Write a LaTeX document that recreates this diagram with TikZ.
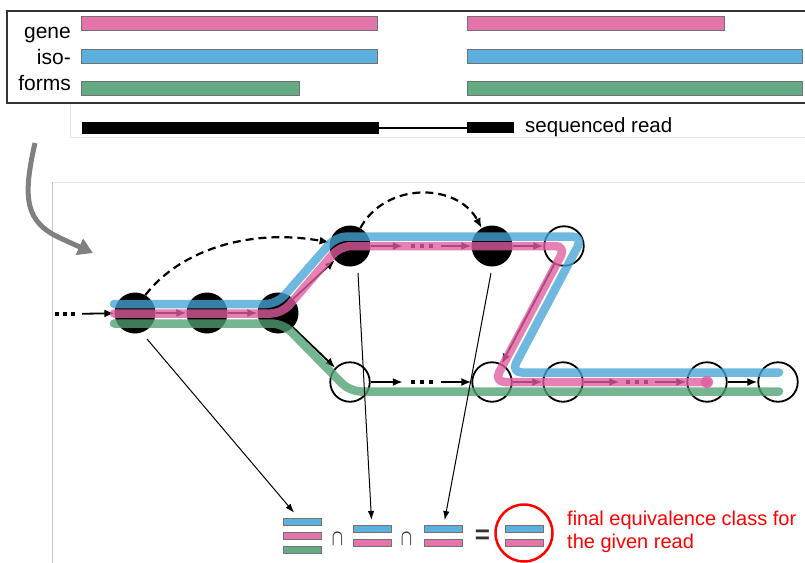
\documentclass[tikz,border=0pt]{standalone}
\usepackage{fontspec}
\setmainfont{Liberation Sans}
\usetikzlibrary{arrows.meta}
\definecolor{cpink}{RGB}{227,117,170}
\definecolor{cblue}{RGB}{92,176,221}
\definecolor{cgreen}{RGB}{100,170,130}
\definecolor{tpink}{RGB}{224,92,160}
\definecolor{tblue}{RGB}{70,165,215}
\definecolor{tgreen}{RGB}{80,160,115}
\definecolor{garrow}{RGB}{128,128,128}
\definecolor{opgray}{RGB}{50,50,50}
\begin{document}
\begin{tikzpicture}[x=1pt,y=-1pt,
  lbl/.style={inner sep=0pt, font=\fontsize{21}{25}\selectfont},
  redtxt/.style={inner sep=0pt, text=red, font=\fontsize{20}{24}\selectfont},
  tbar/.style={draw=black!55, line width=0.7pt},
  sbar/.style={draw=black!55, line width=0.6pt, minimum width=38pt, minimum height=7.5pt, inner sep=0pt},
  full/.style={circle, fill=black, minimum size=41pt, inner sep=0pt},
  open/.style={circle, draw=black, line width=1.8pt, minimum size=39.5pt, inner sep=0pt},
  dotnode/.style={inner sep=0pt, minimum height=4pt},
  garr/.style={line width=1.8pt, -{Latex[length=10pt,width=8pt]}},
  dsh/.style={line width=2.2pt, dash pattern=on 8pt off 5pt, -{Latex[length=10pt,width=8pt]}},
  ptr/.style={line width=1pt, -{Latex[length=9pt,width=6.5pt]}},
  track/.style={line width=8.5pt, line cap=round, line join=round, rounded corners=11pt, draw opacity=0.78},
  faint/.style={draw=black!10, line width=0.8pt},
  optxt/.style={inner sep=0pt, text=opgray}
]
\useasboundingbox (0,0) rectangle (805,562);
\clip (0,0) rectangle (805,562);

% faint frame lines
\draw[faint] (70,104) -- (70,137) -- (806,137);
\draw[faint] (806,182) -- (52,182);
\draw[draw=black!22, line width=0.8pt] (52,182) -- (52,563);

% top box with isoforms
\draw[line width=1.1pt, draw=black!80] (7,11) rectangle (812,103);
\node[lbl, anchor=base east] (tgene) at (71,38) {gene};
\node[lbl, anchor=base east] (tiso) at (71,64) {iso-};
\node[lbl, anchor=base east] (tforms) at (71,90) {forms};
\draw[tbar, fill=cpink] (81,16) rectangle (377,30.5);
\draw[tbar, fill=cblue] (81,49) rectangle (377,63);
\draw[tbar, fill=cgreen] (81,81) rectangle (299,95.5);
\draw[tbar, fill=cpink] (467,16) rectangle (724,30.5);
\draw[tbar, fill=cblue] (467,49) rectangle (802,63);
\draw[tbar, fill=cgreen] (467,81) rectangle (802,95.5);

% sequenced read
\fill (82,122) rectangle (379,134);
\draw[line width=2.5pt] (379,128) -- (467,128);
\fill (467,122) rectangle (514,133);
\node[inner sep=0pt, anchor=base west, font=\fontsize{20.5}{24}\selectfont] (tread) at (525,132) {sequenced read};

% gray bent arrow
\draw[line width=5pt, draw=garrow, -{Triangle[length=15pt,width=17pt]}]
  (35,143) .. controls (22,200) and (26,222) .. (60,238) -- (93,253);

% graph nodes
\node[full] (n1) at (135,313) {};
\node[full] (n2) at (207,313) {};
\node[full] (n3) at (278,313) {};
\node[full] (u1) at (350,246) {};
\node[full] (u2) at (492,246) {};
\node[open] (u3) at (564,246) {};
\node[open] (l1) at (350,382) {};
\node[open] (l2) at (492,382) {};
\node[open] (l3) at (563,382) {};
\node[open] (l4) at (707,382) {};
\node[open] (l5) at (778,382) {};
\node[dotnode, minimum width=34pt] (d0) at (65,314) {};
\node[dotnode, minimum width=38pt] (ud) at (422,246) {};
\node[dotnode, minimum width=38pt] (ld) at (422,382) {};
\node[dotnode, minimum width=35pt] (l3d) at (637,382) {};

% dots
\foreach \x in {57,65,73} \fill (\x-1.9,312.1) rectangle (\x+1.9,315.9);
\foreach \x in {413,422,431} \fill (\x-1.9,244.1) rectangle (\x+1.9,247.9);
\foreach \x in {413,422,431} \fill (\x-1.9,380.1) rectangle (\x+1.9,383.9);
\foreach \x in {628,637,646} \fill (\x-1.9,380.1) rectangle (\x+1.9,383.9);

% edges
\draw[garr] (d0) -- (n1);
\draw[garr] (n1) -- (n2);
\draw[garr] (n2) -- (n3);
\draw[garr] (n3) -- (u1);
\draw[garr] (n3) -- (l1);
\draw[garr] (u1) -- (ud);
\draw[garr] (ud) -- (u2);
\draw[garr] (u2) -- (u3);
\draw[garr] (u3) -- (l2);
\draw[garr] (l1) -- (ld);
\draw[garr] (ld) -- (l2);
\draw[garr] (l2) -- (l3);
\draw[garr] (l3) -- (l3d);
\draw[garr] (l3d) -- (l4);
\draw[garr] (l4) -- (l5);

% dashed skip edges
\draw[dsh] (n1.60) .. controls (180,250) and (250,228) .. (u1.170);
\draw[dsh] (u1.60) .. controls (385,182) and (457,182) .. (u2.120);

% isoform tracks
\draw[track, draw=tgreen] (114,323.5) -- (283,323.5) -- (350,391.5) -- (779,391.5);
\draw[track, draw=tblue] (114,304) -- (277,304) -- (336,236.5) -- (583,236.5) -- (511,372.5) -- (779,372.5);
\draw[track, draw=tpink] (114,313.5) -- (282,313.5) -- (340,246) -- (566,246) -- (494,382) -- (707,382);
\fill[tpink, opacity=0.85] (707,382) circle[radius=6];

% equivalence classes
\node[sbar, fill=cblue] (s1b) at (302,522) {};
\node[sbar, fill=cpink] (s1p) at (302,536) {};
\node[sbar, fill=cgreen] (s1g) at (302,550) {};
\node[optxt, font=\fontsize{18}{18}\selectfont] (cap1) at (337.5,539) {\scalebox{0.85}[1.3]{\boldmath$\cap$}};
\node[sbar, fill=cblue] (s2b) at (372,529) {};
\node[sbar, fill=cpink] (s2p) at (372,543) {};
\node[optxt, font=\fontsize{18}{18}\selectfont] (cap2) at (406.5,539) {\scalebox{0.85}[1.3]{\boldmath$\cap$}};
\node[sbar, fill=cblue] (s3b) at (443,529) {};
\node[sbar, fill=cpink] (s3p) at (443,543) {};
\node[optxt, font=\bfseries\fontsize{26}{26}\selectfont] (eq) at (482.5,537) {=};
\node[circle, draw=red, line width=2.5pt, minimum size=57pt, inner sep=0pt] (rc) at (524,533) {};
\node[sbar, fill=cblue] (s4b) at (524.5,529) {};
\node[sbar, fill=cpink] (s4p) at (524.5,543) {};
\node[redtxt, anchor=base west] (rt1) at (567,525) {final equivalence class for};
\node[redtxt, anchor=base west] (rt2) at (567,548) {the given read};

% pointers from nodes to classes
\coordinate (c1) at (147,339);
\coordinate (c2) at (358,273);
\coordinate (c3) at (491,273);
\draw[ptr, shorten >=7pt] (c1) -- (s1b);
\draw[ptr, shorten >=5pt] (c2) -- (s2b);
\draw[ptr, shorten >=5pt] (c3) -- (s3b);
\end{tikzpicture}
\end{document}
